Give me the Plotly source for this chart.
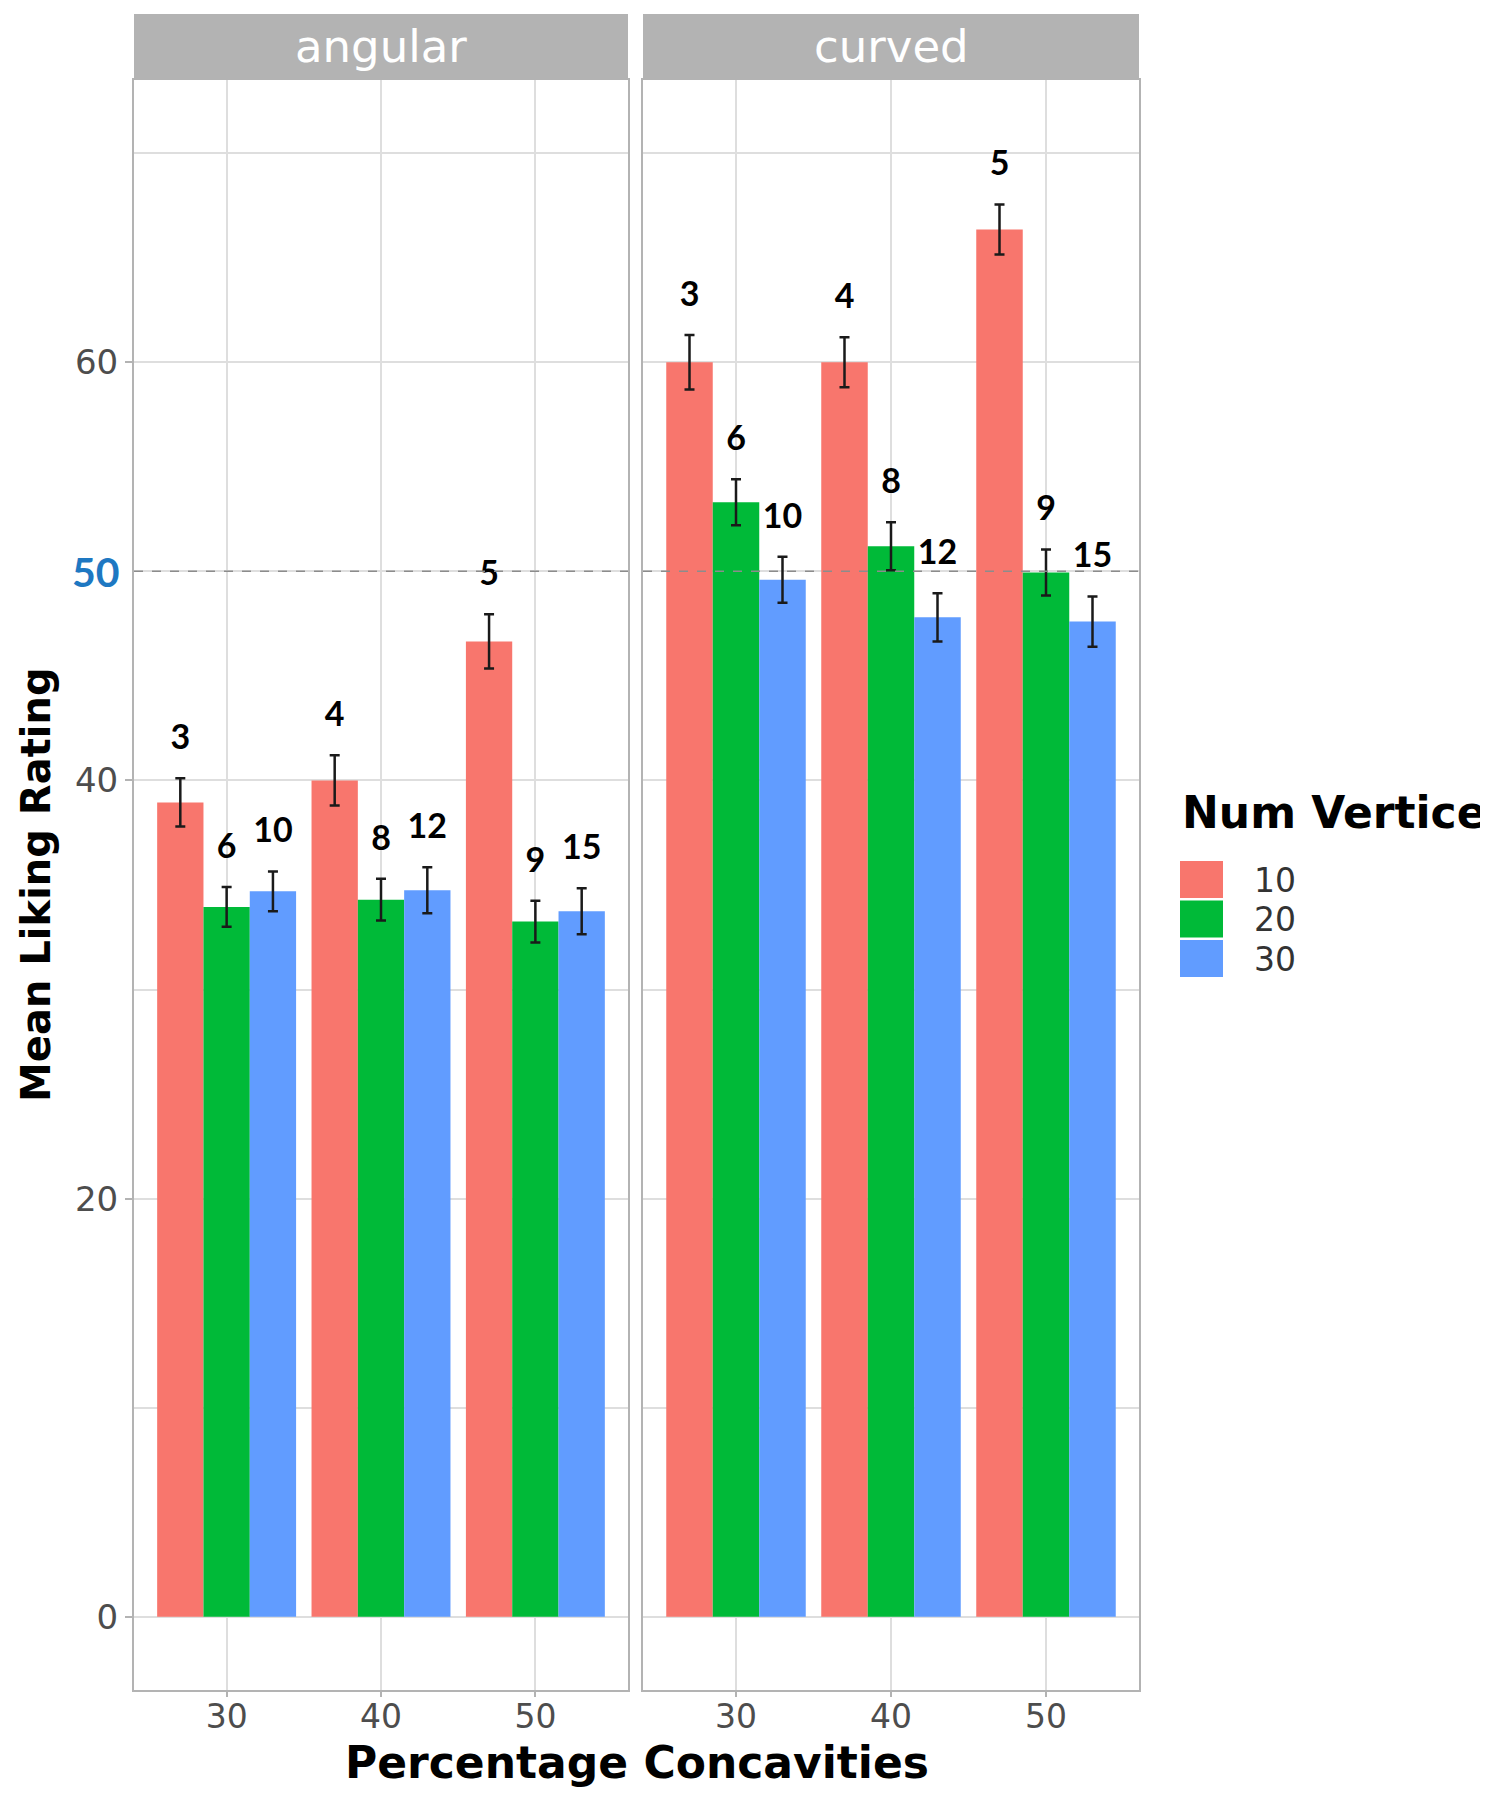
import plotly.graph_objects as go

# ---- data ----
conc_levels = ["30", "40", "50"]          # Percentage Concavities
vertex_levels = ["10", "20", "30"]        # Num Vertices
panels = ["angular", "curved"]

# mean liking rating, one list per vertex level (over conc 30/40/50)
angular_mean = {"10": [38.95, 40.0, 46.65], "20": [33.95, 34.3, 33.25], "30": [34.7, 34.75, 33.75]}
angular_se = {"10": [1.15, 1.2, 1.3], "20": [0.95, 1.0, 1.0], "30": [0.95, 1.1, 1.1]}
curved_mean = {"10": [60.0, 60.0, 66.35], "20": [53.3, 51.2, 49.95], "30": [49.6, 47.8, 47.6]}
curved_se = {"10": [1.3, 1.2, 1.2], "20": [1.1, 1.15, 1.1], "30": [1.1, 1.15, 1.2]}

# number annotations above each bar
counts = {"10": [3, 4, 5], "20": [6, 8, 9], "30": [10, 12, 15]}

REF_LINE = 50
colors = {"10": "#F8766D", "20": "#00BA38", "30": "#619CFF"}

means = {"angular": angular_mean, "curved": curved_mean}
ses = {"angular": angular_se, "curved": curved_se}

BAR_W = 0.3       # dodge width 0.9 split over 3 bars
LABEL_PAD = 1.8   # label sits this far above the error bar
GRID = "#DEDEDE"
BORDER = "#B3B3B3"
TICK_COL = "#4D4D4D"

# figure geometry (px). page body has an 8px margin, so the figure is
# shifted by OFF and everything below is given in page pixels
OFF = 8
W, H = 1488 - OFF, 1808 - OFF
ML, MT = 134 - OFF, 80 - OFF
MR, MB = 349, 118
PW, PH = W - ML - MR, H - MT - MB


def px(x):   # page x -> paper x
    return (x - OFF - ML) / PW


def py(y):   # page y -> paper y
    return (H - MB - (y - OFF)) / PH


fig = go.Figure()
xpos = list(range(len(conc_levels)))

for p, panel in enumerate(panels):
    xa = "x" if p == 0 else "x2"
    ya = "y" if p == 0 else "y2"
    for k, v in enumerate(vertex_levels):
        m = means[panel][v]
        s = ses[panel][v]
        fig.add_trace(go.Bar(
            x=xpos, y=m, name=v,
            marker=dict(color=colors[v], line=dict(width=0)),
            error_y=dict(type="data", array=s, color="#1A1A1A", thickness=2.5, width=5),
            offsetgroup=v, xaxis=xa, yaxis=ya, showlegend=False,
        ))
        fig.add_trace(go.Scatter(
            x=[i + (k - 1) * BAR_W for i in xpos],
            y=[a + b + LABEL_PAD for a, b in zip(m, s)],
            text=[str(c) for c in counts[v]],
            mode="text",
            textposition="middle center",
            textfont=dict(family="Lato", size=34, color="black", weight="bold"),
            xaxis=xa, yaxis=ya, showlegend=False, hoverinfo="skip",
        ))

xcommon = dict(
    range=[-0.6, 2.6], tickmode="array", tickvals=xpos, ticktext=conc_levels,
    showgrid=True, gridcolor=GRID, gridwidth=2, zeroline=False,
    showline=True, mirror=True, linecolor=BORDER, linewidth=2,
    ticks="outside", ticklen=5, tickwidth=2, tickcolor=BORDER,
    ticklabelstandoff=-9,
    tickfont=dict(family="DejaVu Sans", size=33, color=TICK_COL),
)
ycommon = dict(
    range=[-3.5, 73.5], tickmode="array", tickvals=[0, 20, 40, 60],
    showgrid=True, gridcolor=GRID, gridwidth=2, zeroline=False,
    minor=dict(tickmode="array", tickvals=[10, 30, 50, 70], showgrid=True,
               gridcolor=GRID, gridwidth=1.5, ticks=""),
    showline=True, mirror=True, linecolor=BORDER, linewidth=2,
    tickfont=dict(family="DejaVu Sans", size=34, color=TICK_COL),
)

fig.update_layout(
    width=W, height=H,
    margin=dict(l=ML, r=MR, t=MT, b=MB),
    paper_bgcolor="white", plot_bgcolor="white",
    barmode="group", bargap=0.1, bargroupgap=0,
    showlegend=False,
    xaxis=dict(domain=[0, px(628)], anchor="y", **xcommon),
    xaxis2=dict(domain=[px(643), 1], anchor="y2", **xcommon),
    yaxis=dict(anchor="x", ticks="outside", ticklen=7, tickwidth=2, tickcolor=BORDER, **ycommon),
    yaxis2=dict(anchor="x2", matches="y", showticklabels=False, ticks="", **ycommon),
)

shapes = []
annotations = []
strip_h = 66 / PH
for p, panel in enumerate(panels):
    xd = "x domain" if p == 0 else "x2 domain"
    ya = "y" if p == 0 else "y2"
    # dashed reference line at 50
    shapes.append(dict(type="line", xref=xd, x0=0, x1=1, yref=ya, y0=REF_LINE, y1=REF_LINE,
                       line=dict(color="#8C8C8C", width=1.5, dash="dash"), layer="above"))
    # facet strip
    shapes.append(dict(type="rect", xref=xd, x0=0, x1=1, yref="paper", y0=1.001, y1=1 + strip_h,
                       fillcolor="#B3B3B3", line=dict(width=0), layer="above"))
    annotations.append(dict(text=panel, xref=xd, x=0.5, yref="paper", y=1 + strip_h / 2,
                            showarrow=False, xanchor="center", yanchor="middle",
                            font=dict(family="DejaVu Sans", size=45, color="white")))

# highlighted 50 tick label
annotations.append(dict(text="<b>50</b>", xref="paper", x=px(122), xanchor="right",
                        yref="y", y=REF_LINE, yanchor="middle", showarrow=False,
                        font=dict(family="Lato", size=41, color="#1E78C2")))

# axis titles
annotations.append(dict(text="<b>Mean Liking Rating</b>", xref="paper", x=px(36),
                        yref="paper", y=0.5, textangle=-90, showarrow=False,
                        xanchor="center", yanchor="middle",
                        font=dict(family="DejaVu Sans", size=40, color="black")))
annotations.append(dict(text="<b>Percentage Concavities</b>", xref="paper", x=0.5,
                        yref="paper", y=py(1763), showarrow=False,
                        xanchor="center", yanchor="middle",
                        font=dict(family="DejaVu Sans", size=44, color="black")))

# legend drawn by hand so the keys are big ggplot-style squares
annotations.append(dict(text="<b>Num Vertices</b>", xref="paper", x=px(1180), xanchor="left",
                        yref="paper", y=py(812), yanchor="middle", showarrow=False,
                        font=dict(family="DejaVu Sans", size=44, color="black")))
for k, v in enumerate(vertex_levels):
    top = 861 + k * 39.5
    shapes.append(dict(type="rect", xref="paper", yref="paper",
                       x0=px(1180), x1=px(1223), y0=py(top + 37), y1=py(top),
                       fillcolor=colors[v], line=dict(width=0)))
    annotations.append(dict(text=v, xref="paper", x=px(1252), xanchor="left",
                            yref="paper", y=py(top + 19), yanchor="middle", showarrow=False,
                            font=dict(family="DejaVu Sans", size=33, color="#333333")))

fig.update_layout(shapes=shapes, annotations=annotations)

fig.write_html("out.html")
